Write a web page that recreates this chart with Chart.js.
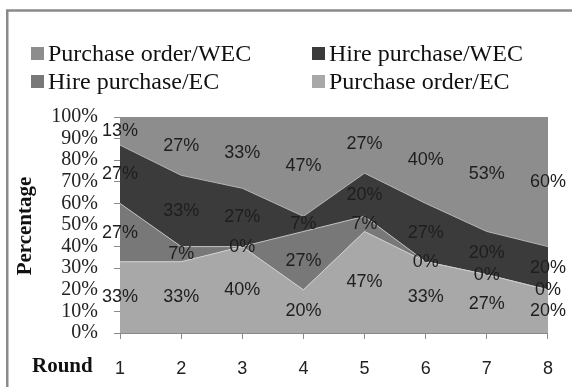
<!DOCTYPE html>
<html>
<head>
    <title>Round percentages</title>
    <script src="https://cdn.jsdelivr.net/npm/chart.js@4.4.1/dist/chart.umd.min.js"></script>
    <style>
        body { margin: 0; background: #fff; }
        #wrap { width: 572px; height: 387px; position: relative; }
    </style>
</head>
<body>
    <div id="wrap"><canvas id="areaChart"></canvas></div>
    <script>
        // data (percent per round)
        const rounds = ['1', '2', '3', '4', '5', '6', '7', '8'];
        const purchaseOrderEC = [33, 33, 40, 20, 47, 33, 27, 20];
        const hirePurchaseEC = [27, 7, 0, 27, 7, 0, 0, 0];
        const hirePurchaseWEC = [27, 33, 27, 7, 20, 27, 20, 20];
        const purchaseOrderWEC = [13, 27, 33, 47, 27, 40, 53, 60];

        const seriesNames = ['Purchase order/EC', 'Hire purchase/EC', 'Hire purchase/WEC', 'Purchase order/WEC'];
        const seriesColors = ['#a8a8a8', '#787878', '#3b3b3b', '#8d8d8d'];
        const edgeColors = ['#cfcfcf', '#bdbdbd', '#b0b0b0', '#8d8d8d'];
        // legend as it sits in the picture: [series index, column, row]
        const legendLayout = [[3, 0, 0], [2, 1, 0], [1, 0, 1], [0, 1, 1]];

        const allSeries = [purchaseOrderEC, hirePurchaseEC, hirePurchaseWEC, purchaseOrderWEC];

        const extras = {
            id: 'extras',
            beforeDraw(chart) {
                const c = chart.ctx;
                c.save();
                c.fillStyle = '#fff';
                c.fillRect(0, 0, chart.width, chart.height);
                c.strokeStyle = '#8a8a8a';
                c.lineWidth = 2.5;
                c.strokeRect(7.25, 10.5, 700, 500);
                c.restore();
            },
            afterDatasetsDraw(chart) {
                const c = chart.ctx;
                const xs = chart.scales.x, ys = chart.scales.y;
                c.save();
                c.font = '18px "Liberation Sans"';
                c.fillStyle = '#1e1e1e';
                c.textAlign = 'center';
                c.textBaseline = 'middle';
                rounds.forEach((r, i) => {
                    let base = 0;
                    allSeries.forEach(s => {
                        const mid = Math.min(base + s[i] / 2, 100);
                        base += s[i];
                        c.fillText(s[i] + '%', xs.getPixelForValue(i), ys.getPixelForValue(mid));
                    });
                });
                c.restore();
            },
            afterDraw(chart) {
                const c = chart.ctx;
                c.save();
                // legend
                c.font = '24px "Liberation Serif"';
                c.textBaseline = 'alphabetic';
                c.textAlign = 'left';
                legendLayout.forEach(([idx, col, row]) => {
                    const sx = col ? 312 : 31;
                    const tx = col ? 329 : 48;
                    const y = 47 + row * 28;
                    c.fillStyle = seriesColors[idx];
                    c.fillRect(sx, y, 13, 13);
                    c.fillStyle = '#111';
                    c.fillText(seriesNames[idx], tx, y + 14);
                });
                // axis titles
                c.font = 'bold 21px "Liberation Serif"';
                c.fillStyle = '#111';
                c.fillText('Round', 32, 372);
                c.translate(26, 226);
                c.rotate(-Math.PI / 2);
                c.textAlign = 'center';
                c.textBaseline = 'middle';
                c.fillText('Percentage', 0, 0);
                c.restore();
            }
        };

        const ctx = document.getElementById('areaChart').getContext('2d');
        const areaChart = new Chart(ctx, {
            type: 'line',
            data: {
                labels: rounds,
                datasets: allSeries.map((s, i) => ({
                    label: seriesNames[i],
                    data: s,
                    fill: i === 0 ? 'origin' : '-1',
                    backgroundColor: seriesColors[i],
                    borderColor: edgeColors[i],
                    borderWidth: 1,
                    pointRadius: 0,
                    tension: 0
                }))
            },
            options: {
                responsive: true,
                maintainAspectRatio: false,
                animation: false,
                layout: { padding: { top: 117, right: 16, left: 0, bottom: 0 } },
                plugins: {
                    legend: { display: false },
                    tooltip: { enabled: false }
                },
                scales: {
                    x: {
                        grid: { drawOnChartArea: false, tickLength: 6, color: '#8a8a8a' },
                        border: { color: '#8a8a8a' },
                        ticks: {
                            padding: 19,
                            color: '#222',
                            font: { family: 'Liberation Sans', size: 18 },
                            maxRotation: 0
                        },
                        afterFit(scale) { scale.height = 54; }
                    },
                    y: {
                        stacked: true,
                        min: 0,
                        max: 100,
                        grid: { drawOnChartArea: false, tickLength: 6, color: '#8a8a8a' },
                        border: { color: '#8a8a8a' },
                        ticks: {
                            stepSize: 10,
                            autoSkip: false,
                            padding: 16,
                            color: '#222',
                            font: { family: 'Liberation Serif', size: 20, lineHeight: 1 },
                            callback: v => v + '%'
                        },
                        afterFit(scale) { scale.width = 120; }
                    }
                }
            },
            plugins: [extras]
        });
    </script>
</body>
</html>
